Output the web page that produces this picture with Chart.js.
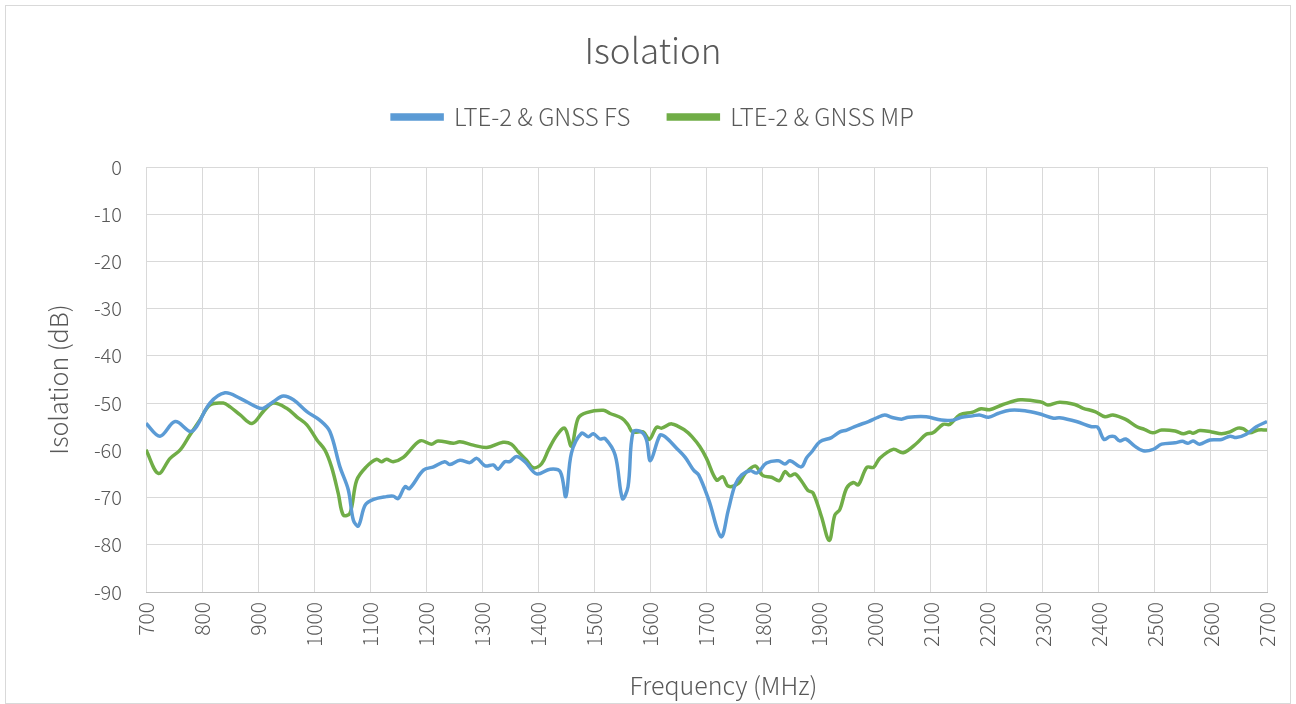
<!DOCTYPE html>
<html>
<head>
<meta charset="utf-8">
<script src="https://cdn.jsdelivr.net/npm/chart.js@4.4.1/dist/chart.umd.min.js"></script>
<style>
  html, body { margin: 0; padding: 0; background: #ffffff; }
  #frame { position: absolute; left: 5px; top: 5px; width: 1284px; height: 697px; border: 1px solid #d9d9d9; }
  #c { position: absolute; left: 0; top: 0; }
</style>
</head>
<body>
<div id="frame"></div>
<canvas id="c" width="1296" height="704"></canvas>
<script>
const chartTitle = "Isolation";
const seriesNames = ["LTE-2 & GNSS FS", "LTE-2 & GNSS MP"];
const xTitle = "Frequency (MHz)";
const yTitle = "Isolation (dB)";
const xTicks = [700,800,900,1000,1100,1200,1300,1400,1500,1600,1700,1800,1900,2000,2100,2200,2300,2400,2500,2600,2700];
const yTicks = [0,-10,-20,-30,-40,-50,-60,-70,-80,-90];

const fsFreq = [700,725,752,779,790,814,841,868,897,909,927,945,963,987,1010,1028,1046,1061,1070,1079,1091,1106,1129,1141,1150,1162,1170,1195,1213,1233,1242,1260,1278,1290,1305,1320,1328,1340,1349,1361,1376,1397,1421,1439,1449,1459,1477,1489,1498,1510,1519,1537,1550,1560,1569,1584,1593,1600,1617,1626,1647,1662,1677,1686,1704,1726,1739,1751,1763,1778,1790,1807,1828,1840,1849,1869,1879,1888,1902,1923,1938,1950,1968,1989,2004,2018,2030,2048,2060,2092,2119,2140,2155,2175,2187,2203,2220,2241,2268,2292,2319,2330,2360,2387,2398,2409,2419,2428,2437,2448,2464,2479,2497,2512,2536,2549,2559,2568,2580,2598,2619,2634,2645,2663,2681,2700];
const fsVals = [-54.3,-57.0,-53.9,-56.0,-55.0,-50.0,-47.8,-49.0,-50.8,-51.1,-49.7,-48.5,-49.3,-51.8,-53.6,-56.0,-63.5,-68.4,-74.8,-76.0,-71.6,-70.4,-69.8,-69.7,-70.2,-67.7,-68.1,-64.2,-63.5,-62.4,-63.0,-62.1,-62.6,-61.7,-63.3,-63.1,-64.0,-62.4,-62.4,-61.3,-62.4,-65.0,-64.0,-64.5,-69.8,-60.6,-56.4,-57.1,-56.5,-57.6,-57.5,-61.0,-70.2,-67.7,-56.1,-56.1,-57.8,-62.2,-56.8,-57.1,-59.6,-61.5,-64.2,-65.2,-70.5,-78.3,-72.6,-67.3,-65.2,-64.3,-64.8,-62.7,-62.2,-62.9,-62.2,-63.5,-61.5,-60.3,-58.2,-57.3,-56.1,-55.7,-54.8,-53.9,-53.1,-52.5,-53.0,-53.4,-53.0,-52.9,-53.6,-53.6,-53.0,-52.7,-52.5,-53.0,-52.2,-51.5,-51.6,-52.2,-53.2,-53.1,-53.9,-55.0,-55.1,-57.7,-57.1,-57.1,-58.0,-57.6,-59.1,-60.1,-59.8,-58.7,-58.4,-58.1,-58.5,-58.0,-58.7,-57.8,-57.7,-57.0,-57.3,-56.6,-55.0,-53.9];

const mpFreq = [700,722,743,761,778,796,814,838,850,868,889,909,927,951,969,987,1005,1019,1031,1043,1052,1064,1076,1093,1111,1120,1129,1141,1159,1189,1209,1221,1248,1260,1284,1308,1337,1352,1364,1379,1391,1406,1418,1433,1447,1459,1471,1486,1516,1528,1549,1560,1568,1587,1598,1611,1620,1638,1662,1674,1688,1700,1718,1729,1739,1757,1769,1787,1800,1816,1830,1840,1849,1858,1870,1881,1890,1905,1919,1929,1938,1950,1962,1971,1986,1998,2009,2033,2051,2075,2092,2104,2122,2134,2152,2175,2190,2205,2229,2260,2298,2309,2330,2357,2372,2393,2411,2425,2447,2468,2482,2496,2512,2536,2551,2562,2568,2580,2601,2619,2634,2648,2657,2669,2684,2700];
const mpVals = [-59.9,-64.9,-61.7,-59.9,-56.8,-53.6,-50.4,-50.0,-50.8,-52.5,-54.3,-51.8,-50.0,-51.1,-52.9,-54.6,-57.8,-59.9,-63.5,-69.1,-73.7,-73.3,-66.3,-63.5,-61.9,-62.4,-61.9,-62.4,-61.5,-58.0,-58.7,-58.0,-58.5,-58.2,-58.9,-59.4,-58.3,-58.7,-60.3,-62.1,-63.7,-62.8,-59.9,-56.8,-55.3,-59.1,-53.2,-52.0,-51.5,-52.2,-53.2,-54.6,-56.1,-56.1,-57.7,-55.1,-55.3,-54.4,-55.8,-57.1,-59.2,-61.7,-66.3,-65.6,-67.6,-67.0,-64.9,-63.3,-65.3,-65.7,-66.4,-64.5,-65.4,-65.0,-66.6,-68.5,-69.0,-74.0,-79.1,-73.7,-72.5,-68.0,-66.8,-67.3,-63.6,-63.6,-61.7,-59.8,-60.5,-58.5,-56.6,-56.3,-54.5,-54.5,-52.5,-51.9,-51.2,-51.4,-50.3,-49.3,-49.8,-50.4,-49.8,-50.3,-51.1,-51.8,-52.9,-52.5,-53.4,-55.0,-55.6,-56.3,-55.7,-55.9,-56.5,-56.1,-56.4,-55.8,-56.1,-56.5,-56.1,-55.3,-55.4,-56.3,-55.7,-55.7];

const FONT = '"Noto Sans CJK SC", "Noto Sans", sans-serif';
const TXT = '#595959';
const GRID = '#d9d9d9';

const toPts = (xs, ys) => xs.map((x, i) => ({ x: x, y: ys[i] }));

const legendHeightPlugin = {
  id: 'legendHeight',
  beforeInit(chart) {
    const orig = chart.legend.fit;
    chart.legend.fit = function () {
      orig.call(this);
      this.height += 28;
    };
  }
};

// shift the x-axis title slightly right of the plot centre, as in the reference
const xTitleShiftPlugin = {
  id: 'xTitleShift',
  beforeDraw(chart) {
    const sx = chart.scales.x;
    if (!sx._origDrawTitle) {
      sx._origDrawTitle = sx.drawTitle;
      sx.drawTitle = function () {
        const ctx = this.ctx;
        ctx.save();
        ctx.translate(17, 0);
        this._origDrawTitle();
        ctx.restore();
      };
    }
  }
};

new Chart(document.getElementById('c'), {
  type: 'line',
  data: {
    datasets: [
      { label: seriesNames[0], data: toPts(fsFreq, fsVals), borderColor: '#5b9bd5', backgroundColor: '#5b9bd5', borderWidth: 3.5, pointRadius: 0, tension: 0.35, fill: false },
      { label: seriesNames[1], data: toPts(mpFreq, mpVals), borderColor: '#70ad47', backgroundColor: '#70ad47', borderWidth: 3.5, pointRadius: 0, tension: 0.35, fill: false }
    ]
  },
  plugins: [legendHeightPlugin, xTitleShiftPlugin],
  options: {
    responsive: false,
    animation: false,
    events: [],
    layout: { padding: { left: 10, right: 0, top: 0, bottom: 0 } },
    plugins: {
      title: {
        display: true, text: chartTitle, color: TXT,
        font: { family: FONT, size: 35, weight: '300' },
        padding: { top: 30, bottom: -5 }
      },
      legend: {
        display: true, position: 'top',
        labels: {
          color: TXT, boxWidth: 50, boxHeight: 4, padding: 38,
          font: { family: FONT, size: 24, weight: '300' }
        }
      },
      tooltip: { enabled: false }
    },
    scales: {
      x: {
        type: 'linear', min: 700, max: 2700,
        afterBuildTicks(scale) { scale.ticks = xTicks.map(v => ({ value: v })); },
        afterFit(scale) { scale.height = 112; scale.paddingLeft = 0; scale.paddingRight = 29; },
        ticks: { color: TXT, font: { family: FONT, size: 21, weight: '300' }, minRotation: 90, maxRotation: 90, autoSkip: false, padding: 10, callback: v => String(v) },
        grid: { color: GRID, lineWidth: 1, drawTicks: false },
        border: { color: '#bfbfbf', width: 1 },
        title: { display: true, text: xTitle, color: TXT, font: { family: FONT, size: 25, weight: '300' }, padding: { top: 4, bottom: 4 } }
      },
      y: {
        type: 'linear', min: -90, max: 0,
        afterBuildTicks(scale) { scale.ticks = yTicks.map(v => ({ value: v })); },
        afterFit(scale) { scale.width = 136; scale.paddingTop = 0; scale.paddingBottom = 0; },
        ticks: { color: TXT, font: { family: FONT, size: 20, weight: '300' }, padding: 24, callback: v => String(v) },
        grid: { color: GRID, lineWidth: 1, drawTicks: false },
        border: { display: false },
        title: { display: true, text: yTitle, color: TXT, font: { family: FONT, size: 25, weight: '300' }, padding: { top: 33, bottom: 0 } }
      }
    }
  }
});
</script>
</body>
</html>
